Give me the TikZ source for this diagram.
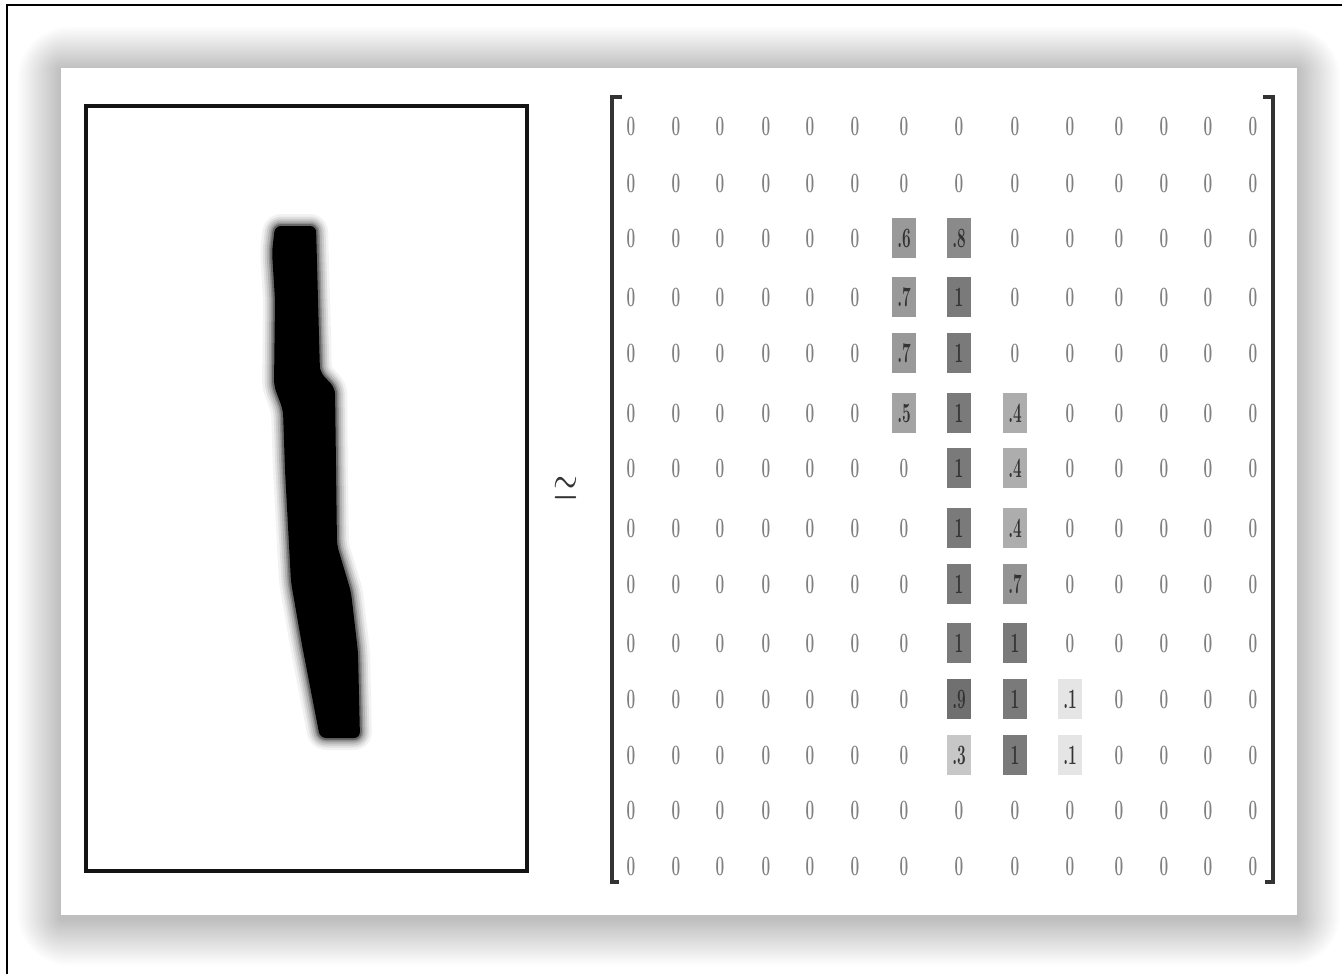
\documentclass[tikz,border=0pt]{standalone}
\usepackage{graphicx}
\begin{document}
\begin{tikzpicture}[x=1pt,y=-1pt,
  cell/.style={minimum width=24pt,minimum height=40pt,inner sep=0pt,font=\fontsize{28}{28}\selectfont\bfseries},
  frameline/.style={line width=2pt,black},
  bracketline/.style={line width=3.5pt,black!80,line cap=rect},
  digitbox/.style={line width=4pt,black!92,fill=white}]
\useasboundingbox (0,0) rectangle (1342,974);
\fill[white] (0,0) rectangle (1342,974);
% outer frame
\draw[frameline] (7,980) -- (7,5) -- (1350,5);
% card shadow
\foreach \i in {1,...,32}{
  \fill[black,opacity=0.009,rounded corners={\i*1.6pt}]
    ({61-\i*1.35},{68-\i*1.35+2}) rectangle ({1297+\i*1.35},{915+\i*1.45+4});
}
% card
\fill[white] (61,68) rectangle (1297,915);
% image box
\draw[digitbox] (86,106) rectangle (527,871);
% handwritten one
\def\onepath{(275,226) -- (316,226) -- (320,372) -- (335,388) -- (337,545) -- (351,592) -- (358,652) -- (360,738) -- (320,738) -- (302,645) -- (291,582) -- (285,470) -- (283,410) -- (274,386) -- (275,300) -- (272,252) -- cycle}
\foreach \w/\o in {24/0.05,19/0.07,15/0.09,11/0.12,7/0.18,4/0.28}{
  \draw[line width=\w pt,opacity=\o,line join=round,rounded corners=6pt] \onepath;
}
\fill[black,rounded corners=6pt] \onepath;
% approx symbol
\node[font=\normalsize,text=black!80,inner sep=0pt] (approx) at (566,489) {\scalebox{3.2}[5]{$\simeq$}};
% brackets
\draw[bracketline] (620,97) -- (612,97) -- (612,882) -- (620,882);
\draw[bracketline] (1265,97) -- (1273,97) -- (1273,882) -- (1265,882);
% matrix
\def\colx{{631,676,720,766,810,855,904,959,1015,1070,1119,1164,1208,1253}}
\def\rowy{{126,183,238,297,353,413,468,528,584,643,699,755,810,866}}
\foreach \row [count=\r] in {
 {0/0,0/0,0/0,0/0,0/0,0/0,0/0,0/0,0/0,0/0,0/0,0/0,0/0,0/0},
 {0/0,0/0,0/0,0/0,0/0,0/0,0/0,0/0,0/0,0/0,0/0,0/0,0/0,0/0},
 {0/0,0/0,0/0,0/0,0/0,0/0,.6/40,.8/46,0/0,0/0,0/0,0/0,0/0,0/0},
 {0/0,0/0,0/0,0/0,0/0,0/0,.7/40,1/52,0/0,0/0,0/0,0/0,0/0,0/0},
 {0/0,0/0,0/0,0/0,0/0,0/0,.7/40,1/52,0/0,0/0,0/0,0/0,0/0,0/0},
 {0/0,0/0,0/0,0/0,0/0,0/0,.5/36,1/52,.4/32,0/0,0/0,0/0,0/0,0/0},
 {0/0,0/0,0/0,0/0,0/0,0/0,0/0,1/52,.4/32,0/0,0/0,0/0,0/0,0/0},
 {0/0,0/0,0/0,0/0,0/0,0/0,0/0,1/52,.4/32,0/0,0/0,0/0,0/0,0/0},
 {0/0,0/0,0/0,0/0,0/0,0/0,0/0,1/52,.7/42,0/0,0/0,0/0,0/0,0/0},
 {0/0,0/0,0/0,0/0,0/0,0/0,0/0,1/52,1/52,0/0,0/0,0/0,0/0,0/0},
 {0/0,0/0,0/0,0/0,0/0,0/0,0/0,.9/56,1/52,.1/10,0/0,0/0,0/0,0/0},
 {0/0,0/0,0/0,0/0,0/0,0/0,0/0,.3/22,1/52,.1/10,0/0,0/0,0/0,0/0},
 {0/0,0/0,0/0,0/0,0/0,0/0,0/0,0/0,0/0,0/0,0/0,0/0,0/0,0/0},
 {0/0,0/0,0/0,0/0,0/0,0/0,0/0,0/0,0/0,0/0,0/0,0/0,0/0,0/0}}{
  \pgfmathsetmacro\yy{\rowy[\r-1]}
  \foreach \t/\f [count=\c] in \row {
    \pgfmathsetmacro\xx{\colx[\c-1]}
    \pgfmathsetmacro\tc{\f==0 ? 50 : 80}
    \node[cell,fill=black!\f,text=black!\tc] (m-\r-\c) at (\xx,\yy) {\scalebox{0.55}[1]{\t}};
  }
}
\end{tikzpicture}
\end{document}
